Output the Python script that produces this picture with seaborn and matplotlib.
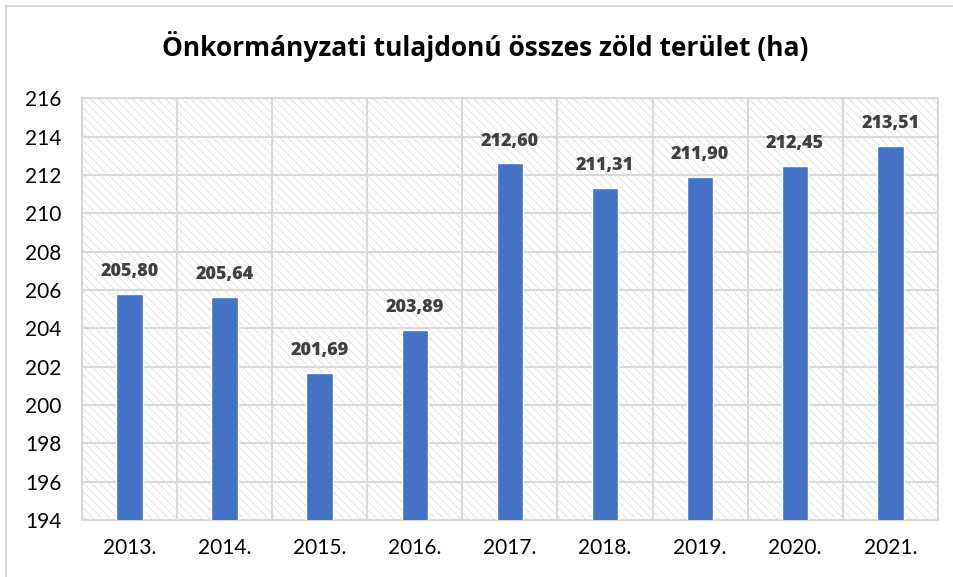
import matplotlib
matplotlib.use("Agg")
import matplotlib.pyplot as plt
from matplotlib.patches import Rectangle
from matplotlib.ticker import FixedLocator
import seaborn as sns
import pandas as pd

years = ["2013.", "2014.", "2015.", "2016.", "2017.", "2018.", "2019.", "2020.", "2021."]
area_ha = [205.80, 205.64, 201.69, 203.89, 212.60, 211.31, 211.90, 212.45, 213.51]
y_ticks = [194, 196, 198, 200, 202, 204, 206, 208, 210, 212, 214, 216]
title = "Önkormányzati tulajdonú összes zöld terület (ha)"

sns.set_theme(style="white")
plt.rcParams["font.family"] = ["Lato", "DejaVu Sans"]
plt.rcParams["hatch.linewidth"] = 0.5

grid_col = "#D9D9D9"
bar_col = "#4472C4"

fig = plt.figure(figsize=(9.54, 5.77), dpi=100)
ax = fig.add_axes([0.086, 0.0988, 0.897, 0.731])

# outer chart frame
fig.patches.append(Rectangle((6 / 954, -0.05), 1.2, 1 - 6 / 577 + 0.05,
                             transform=fig.transFigure, fill=False,
                             edgecolor=grid_col, linewidth=1.5, zorder=0))

df = pd.DataFrame({"year": years, "area": area_ha})
sns.barplot(data=df, x="year", y="area", color=bar_col, saturation=1,
            width=0.28, ax=ax, zorder=3)

ax.set_ylim(y_ticks[0], y_ticks[-1])
ax.set_xlim(-0.5, len(years) - 0.5)

# hatched background of the plot area
ax.add_patch(Rectangle((0, 0), 1, 1, transform=ax.transAxes, facecolor="white",
                       edgecolor="#D6D6D6", hatch="\\\\\\\\", linewidth=0, zorder=0))

ax.set_yticks(y_ticks)
ax.set_yticklabels([str(t) for t in y_ticks])
ax.xaxis.set_minor_locator(FixedLocator([i + 0.5 for i in range(-1, len(years))]))
ax.grid(axis="y", which="major", color=grid_col, linewidth=1.5, zorder=1)
ax.grid(axis="x", which="minor", color=grid_col, linewidth=1.5, zorder=1)
ax.grid(axis="x", which="major", visible=False)
ax.set_axisbelow(True)

for s in ax.spines.values():
    s.set_color(grid_col)
    s.set_linewidth(1.5)

ax.tick_params(axis="both", which="both", length=0)
ax.tick_params(axis="y", labelsize=15, pad=15, colors="#000000")
ax.tick_params(axis="x", labelsize=15, pad=13, colors="#000000")
ax.set_xlabel("")
ax.set_ylabel("")

for i, v in enumerate(area_ha):
    ax.annotate(f"{v:.2f}".replace(".", ","), xy=(i, v), xytext=(0, 10),
                textcoords="offset points", ha="center", va="bottom",
                fontsize=13, fontweight="heavy", color="#404040", zorder=5,
                family=["Open Sans", "DejaVu Sans"])

fig.text(485 / 954, 1 - 47 / 577, title, ha="center", va="center",
         fontsize=19, fontweight="bold", color="#000000",
         family=["Open Sans", "DejaVu Sans"])

fig.savefig("out.png", dpi=100)
